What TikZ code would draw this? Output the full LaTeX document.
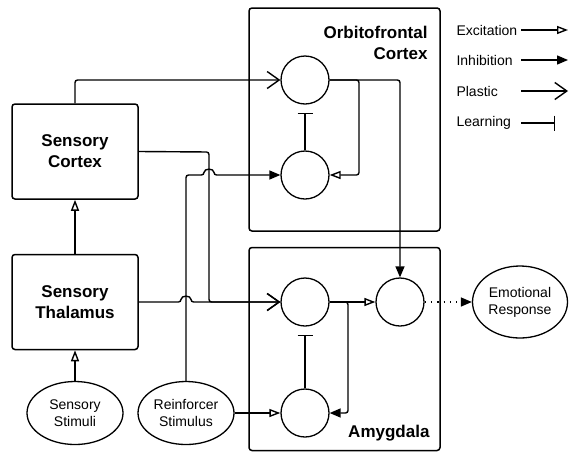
\documentclass[tikz,border=0pt]{standalone}
\usepackage{fontspec}
\setmainfont{Liberation Sans}
\usetikzlibrary{arrows.meta,shapes.geometric}

\tikzset{
  region/.style={draw, line width=1.5pt, rounded corners=3pt, inner sep=0pt},
  block/.style={draw, line width=1.5pt, rounded corners=3pt, align=center,
    minimum width=126pt, minimum height=95pt, font=\bfseries\fontsize{17}{21}\selectfont},
  neuron/.style={draw, circle, line width=1.3pt, minimum size=48pt, inner sep=0pt},
  stim/.style={draw, ellipse, line width=1.3pt, minimum width=96pt, minimum height=63pt,
    inner sep=0pt, align=center, font=\fontsize{14}{17}\selectfont},
  wire/.style={line width=1.4pt, rounded corners=2.5pt},
  excite/.style={wire, -{Triangle[open,length=11pt,width=8pt]}},
  inhib/.style={wire, -{Triangle[length=11pt,width=9pt]}},
  plastic/.style={wire, -{Straight Barb[length=12pt,width=17pt]}},
  learn/.style={wire, -{Bar[width=15pt]}},
  legendtext/.style={anchor=west, font=\fontsize{14}{17}\selectfont},
}

\begin{document}
\begin{tikzpicture}[x=1pt,y=-1pt]
  \useasboundingbox (0,0) rectangle (569,453);

  % regions
  \node[region, minimum width=191pt, minimum height=223pt] (ofc) at (344.5,119.5) {};
  \node[region, minimum width=191pt, minimum height=203pt] (amy) at (344.5,349) {};
  \node[anchor=north east, align=right, font=\bfseries\fontsize{17}{21}\selectfont]
    (ofclabel) at (431,23) {Orbitofrontal\\Cortex};
  \node[anchor=east, font=\bfseries\fontsize{17}{21}\selectfont]
    (amylabel) at (433,433) {Amygdala};

  % inputs
  \node[block] (sc) at (75,151.5) {Sensory\\Cortex};
  \node[block] (st) at (75,302) {Sensory\\Thalamus};
  \node[stim] (stimS) at (75,413) {Sensory\\Stimuli};
  \node[stim] (stimR) at (186,413) {Reinforcer\\Stimulus};
  \node[stim, minimum width=95pt, minimum height=72pt] (resp) at (520,302) {Emotional\\Response};

  % neurons
  \node[neuron] (ofcA) at (305,80) {};
  \node[neuron] (ofcB) at (305,175) {};
  \node[neuron] (amyA) at (305,302) {};
  \node[neuron] (amyB) at (305,413) {};
  \node[neuron] (amyC) at (400,302) {};

  \coordinate (scturn) at (209,152);
  \coordinate (ofcturn) at (359,80);
  \coordinate (amyturn) at (348,302);

  \draw[excite] (stimS) -- (st);
  \draw[excite] (st) -- (sc);
  \draw[plastic] (sc.north) |- (ofcA);
  \draw[plastic] (sc.east) -- (scturn) |- (amyA);
  \draw[inhib] (stimR.north) |- (204,175) .. controls (204,168) and (214,168) .. (214,175) -- (ofcB);
  \draw[plastic] (st.east) -- (181,302) .. controls (181,295) and (191,295) .. (191,302) -- (amyA);
  \draw[excite] (stimR) -- (amyB);

  \draw[excite] (ofcA.east) -- (ofcturn) |- (ofcB);
  \draw[inhib] (ofcA.east) -| (amyC);
  \draw[learn, shorten >=8pt] (ofcB) -- (ofcA);

  \draw[excite] (amyA) -- (amyC);
  \draw[inhib] (amyA.east) -- (amyturn) |- (amyB);
  \draw[learn, shorten >=8pt] (amyB) -- (amyA);
  \draw[inhib, rounded corners=0pt, dash pattern=on 1.3pt off 5pt] (amyC) -- (resp);

  % legend
  \foreach \name/\tip/\y/\len in {Excitation/excite/30/47, Inhibition/inhib/60/47, Plastic/plastic/91/47, Learning/learn/123/34} {
    \node[legendtext] (leg\name) at (453,\y) {\name};
    \coordinate (from\name) at (521,\y);
    \coordinate (to\name) at (521+\len,\y);
    \draw[\tip] (from\name) -- (to\name);
  }
\end{tikzpicture}
\end{document}
